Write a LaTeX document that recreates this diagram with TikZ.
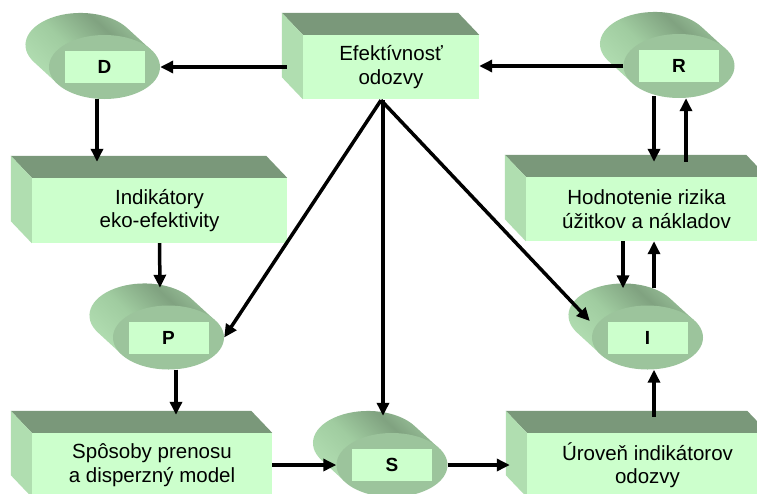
\documentclass[tikz,border=0pt]{standalone}
\usepackage{fontspec}
\setmainfont{Liberation Sans}
\usetikzlibrary{arrows.meta,shapes.geometric,calc}
\definecolor{boxfrontc}{HTML}{CCFFCC}
\definecolor{boxtopc}{HTML}{7A987A}
\definecolor{boxleftc}{HTML}{B0DEB0}
\definecolor{ellfrontc}{HTML}{9CC49C}
\definecolor{cylA}{HTML}{B2DEB2}
\definecolor{cylB}{HTML}{A0CCA0}
\definecolor{cylC}{HTML}{80A280}
\definecolor{cylD}{HTML}{9AC29A}
\pgfdeclarehorizontalshading{cyl}{100bp}{color(0bp)=(cylA); color(25bp)=(cylA); color(45bp)=(cylB); color(63bp)=(cylC); color(75bp)=(cylD); color(100bp)=(cylD)}
\tikzset{
  boxfront/.style={rectangle, fill=boxfrontc, inner sep=0pt, align=center,
    font=\fontsize{20.5}{23.5}\selectfont},
  ellfront/.style={ellipse, fill=ellfrontc, inner sep=0pt, minimum width=111pt, minimum height=64pt},
  ellrect/.style={rectangle, fill=boxfrontc, inner sep=0pt, minimum width=80pt, minimum height=32pt,
    font=\fontsize{19}{21}\selectfont\bfseries},
  arr/.style={line width=3.5pt, -{Triangle[length=13pt,width=12pt]}},
}
\newcommand\gboxfaces[1]{%
  \fill[boxtopc] ($(#1.north west)+(-21,-22)$) -- ($(#1.north east)+(-21,-22)$) -- (#1.north east) -- (#1.north west) -- cycle;
  \fill[boxleftc] ($(#1.north west)+(-21,-22)$) -- (#1.north west) -- (#1.south west) -- ($(#1.south west)+(-21,-22)$) -- cycle;
}
\newcommand\gell[4]{%
  \shade[shading=cyl, shading angle=47] (#2+46.4,#3-17.2) -- (#2+22.4,#3-39.2)
    arc[start angle=32.4, end angle=212.4, x radius=55pt, y radius=32pt] -- (#2-46.4,#3+17.2) -- cycle;
  \node[ellfront] (#1) at (#2,#3) {};
  \node[ellrect] (#1t) at (#2,#3) {#4};
}
\begin{document}
\begin{tikzpicture}[x=1pt,y=-1pt]
\clip (0,0) rectangle (757,493);
\fill[white] (0,0) rectangle (757,493);
% boxes
\node[boxfront, minimum width=176pt, minimum height=64pt] (efekt) at (391,67) {Efektívnosť\\odozvy};
\gboxfaces{efekt}
\node[boxfront, minimum width=255pt, minimum height=65pt] (ind) at (159.5,210.5) {Indikátory\\eko-efektivity};
\gboxfaces{ind}
\node[boxfront, minimum width=241pt, minimum height=64pt] (hod) at (646.5,209) {Hodnotenie rizika\\úžitkov a nákladov};
\gboxfaces{hod}
\node[boxfront, minimum width=240pt, minimum height=64pt] (spo) at (152,465) {Spôsoby prenosu\\a disperzný model};
\gboxfaces{spo}
\node[boxfront, minimum width=241pt, minimum height=64pt] (uro) at (647.5,465) {Úroveň indikátorov\\odozvy};
\gboxfaces{uro}
% ellipses
\gell{eD}{104.5}{67}{D}
\gell{eR}{679}{66}{R}
\gell{eP}{168.5}{337.5}{P}
\gell{eS}{392}{465}{S}
\gell{eI}{647.5}{337.5}{I}
% arrows
\coordinate (o) at ($(efekt.south)+(-10,1)$);
\draw[arr] ($(efekt.west)+(-16,0)$) -- (eD.east);
\draw[arr] (eR.west) -- (eR.west -| efekt.east);
\draw[arr] ($(eD.south)+(-7.5,0)$) -- ($(ind.north)+(-62.5,-16)$);
\draw[arr] (ind.south) -- ($(eP.north)+(-8.5,-17.5)$);
\draw[arr] ($(eP.south)+(7.5,0)$) -- ($(spo.north)+(24,-18)$);
\draw[arr] (spo.east) -- (eS.west);
\draw[arr] (eS.east) -- ($(uro.west)+(-17,0)$);
\draw[arr] ($(uro.north)+(6.5,-16)$) -- ($(eI.south)+(6.5,0)$);
\draw[arr] ($(eR.south)+(-25,-2)$) -- ($(hod.north)+(7.5,-15)$);
\draw[arr] ($(hod.north)+(39.5,-15)$) -- ($(eR.south)+(7,0)$);
\draw[arr] ($(hod.south)+(-23.5,0)$) -- ($(eI.north)+(-24.5,-17)$);
\draw[arr] ($(eI.north)+(6.5,-17)$) -- ($(hod.south)+(7.5,0)$);
\draw[arr] (o) -- (eP.east);
\draw[arr] ($(o)+(2,0)$) -- ($(eS.north)+(-9,-17)$);
\draw[arr] (o) -- ($(eI.west)+(-2,-16.5)$);
\end{tikzpicture}
\end{document}
